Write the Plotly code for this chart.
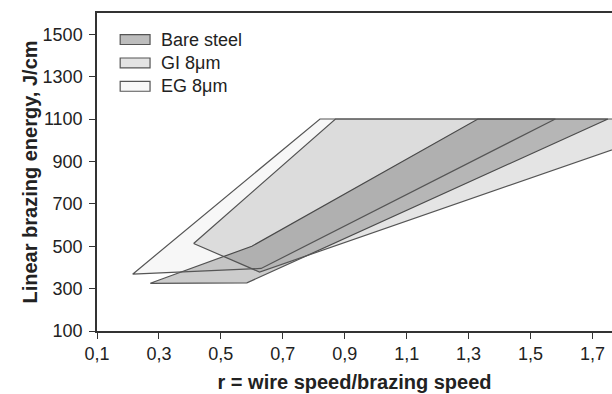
import plotly.graph_objects as go

# Process windows (r, linear energy J/cm)
bare_r = [0.272, 0.60, 1.33, 1.75, 0.584, 0.272]
bare_e = [325, 500, 1100, 1100, 327, 325]

gi_r = [0.412, 0.87, 2.05, 0.625, 0.412]
gi_e = [513, 1100, 1100, 378, 513]

eg_r = [0.215, 0.82, 1.58, 0.63, 0.215]
eg_e = [368, 1100, 1100, 395, 368]

names = ["Bare steel", "GI 8\u03bcm", "EG 8\u03bcm"]
fills = ["rgba(0,0,0,0.20)", "rgba(0,0,0,0.105)", "rgba(0,0,0,0.03)"]
swatch_colors = ["#bdbdbd", "#e3e3e3", "#f8f8f8"]

x_ticks = [0.1, 0.3, 0.5, 0.7, 0.9, 1.1, 1.3, 1.5, 1.7]
x_labels = ["0,1", "0,3", "0,5", "0,7", "0,9", "1,1", "1,3", "1,5", "1,7"]
y_ticks = [100, 300, 500, 700, 900, 1100, 1300, 1500]

FONT = "Liberation Sans, Arial, sans-serif"

fig = go.Figure()
for name, xs, ys, fc in zip(names, [bare_r, gi_r, eg_r], [bare_e, gi_e, eg_e], fills):
    fig.add_trace(go.Scatter(
        x=xs, y=ys, name=name, mode="lines", fill="toself",
        fillcolor=fc, line=dict(color="#555555", width=1.2),
        hoverinfo="skip", showlegend=False,
    ))

# legend drawn as boxed swatches like the original
leg_x0, leg_x1, leg_tx = 0.045, 0.103, 0.12
leg_top, leg_step, leg_h = 0.932, 0.0735, 0.031
for i, (name, sc) in enumerate(zip(names, swatch_colors)):
    y1 = leg_top - i * leg_step
    y0 = y1 - leg_h
    fig.add_shape(type="rect", xref="paper", yref="paper",
                  x0=leg_x0, x1=leg_x1, y0=y0, y1=y1,
                  fillcolor=sc, line=dict(color="#555555", width=1.2))
    fig.add_annotation(xref="paper", yref="paper", x=leg_tx, y=(y0 + y1) / 2,
                       text=name, showarrow=False, xanchor="left", yanchor="middle",
                       font=dict(size=18, color="#222"))

fig.update_layout(
    width=612, height=394,
    margin=dict(l=97, r=0, t=13, b=63),
    paper_bgcolor="white", plot_bgcolor="white",
    font=dict(family=FONT, color="#222", size=18),
    showlegend=False,
    xaxis=dict(
        range=[0.1, 1.763], tickvals=x_ticks, ticktext=x_labels,
        showgrid=False, zeroline=False,
        showline=True, linecolor="#333", linewidth=1.5, mirror=True,
        ticks="outside", ticklen=6, tickcolor="#333", tickwidth=1.2,
        tickfont=dict(size=18),
        title=dict(text="<b>r = wire speed/brazing speed</b>", font=dict(size=20), standoff=12),
    ),
    yaxis=dict(
        range=[100, 1600], tickvals=y_ticks,
        showgrid=False, zeroline=False,
        showline=True, linecolor="#333", linewidth=1.5,
        ticks="outside", ticklen=6, tickcolor="#333", tickwidth=1.2,
        tickfont=dict(size=18), ticklabelstandoff=3,
        title=dict(text="<b>Linear brazing energy, J/cm</b>", font=dict(size=20), standoff=0),
    ),
)

fig.write_html("out.html")
